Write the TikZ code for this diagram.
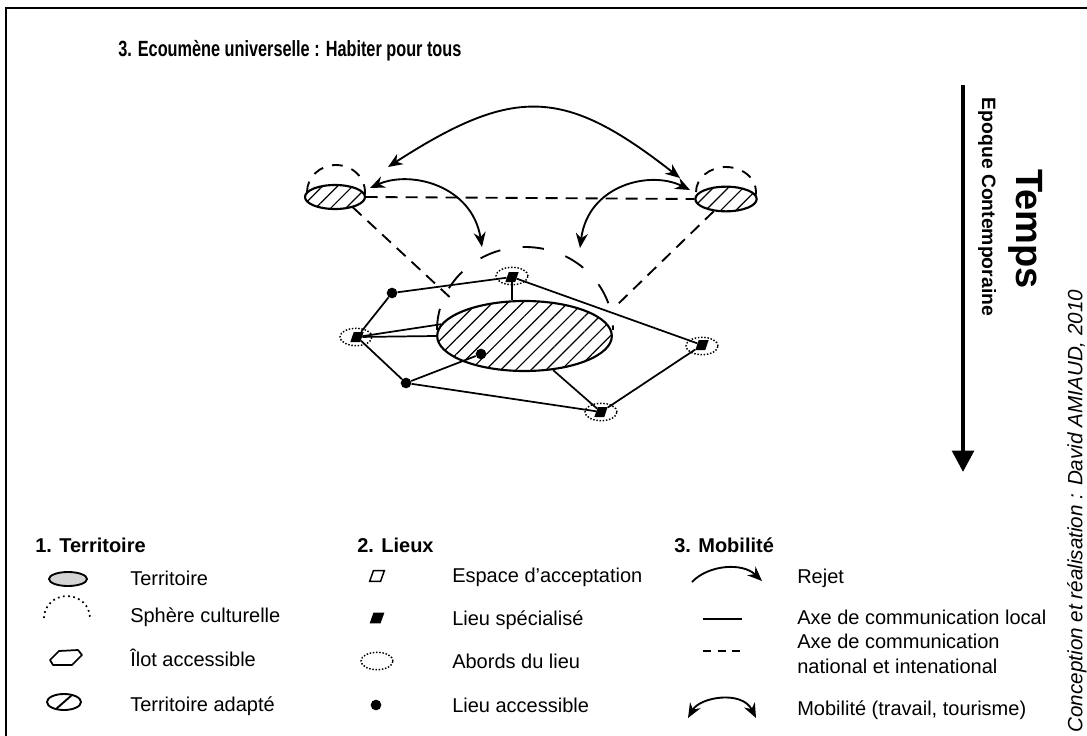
\documentclass[tikz,border=0pt]{standalone}
\usepackage{fontspec}
\usepackage{graphicx}
\setmainfont{Liberation Sans}
\usetikzlibrary{arrows.meta,patterns.meta,shapes.geometric}
\begin{document}
\begin{tikzpicture}[x=0.75pt,y=-0.75pt,
  hatch/.style={preaction={fill=white},pattern={Lines[angle=45,distance=8pt,line width=0.9pt]}},
  terr/.style={ellipse,draw,line width=1.6pt,inner sep=0pt,hatch},
  lieu/.style={trapezium,trapezium left angle=62,trapezium right angle=118,trapezium stretches=true,fill=black,minimum width=10pt,minimum height=7.5pt,inner sep=1pt},
  abord/.style={ellipse,draw,line width=1.1pt,dash pattern=on 1.1pt off 1.3pt,minimum width=24pt,minimum height=13pt,inner sep=0pt},
  acc/.style={circle,fill=black,minimum size=8pt,inner sep=0pt},
  net/.style={line width=1.3pt},
  natl/.style={line width=1.4pt,dash pattern=on 9pt off 6pt},
  sphere/.style={line width=1.4pt,dash pattern=on 8pt off 7pt},
  bigsphere/.style={line width=1.4pt,dash pattern=on 16pt off 17pt},
  mob/.style={line width=1.4pt,{Stealth[length=11pt,width=9pt]}-{Stealth[length=11pt,width=9pt]}},
  legtext/.style={anchor=base west,font=\fontsize{15}{18}\selectfont,inner sep=0pt},
  leghead/.style={anchor=base west,font=\bfseries\fontsize{15}{18}\selectfont,inner sep=0pt}]
\useasboundingbox (0,0) rectangle (1087,735);
\fill[white] (0,0) rectangle (1087,735);
% frame
\draw[line width=2.2pt] (6,745) -- (6,8) -- (1095,8);

% title
\node[anchor=base west,inner sep=0pt,font=\bfseries\fontsize{16.5}{19}\selectfont] (title) at (118,56) {\scalebox{0.74}[1]{3. Ecoumène universelle : Habiter pour tous}};

% time arrow
\coordinate (t1) at (963,85);
\coordinate (t2) at (963,472);
\draw[line width=3.4pt,-{Triangle[length=16pt,width=16pt]}] (t1) -- (t2);
\node[rotate=-90,font=\bfseries\fontsize{28.5}{32}\selectfont,inner sep=0pt] (temps) at (1026,229) {Temps};
\node[rotate=-90,font=\bfseries\fontsize{14.5}{17}\selectfont,inner sep=0pt] (epoque) at (987,207) {Epoque Contemporaine};
\node[rotate=90,font=\itshape\fontsize{15.5}{18}\selectfont,inner sep=0pt] (credit) at (1077,511) {Conception et réalisation : David AMIAUD, 2010};

% spheres (dashed arcs)
\draw[sphere] (307,192) arc[start angle=180,end angle=368,x radius=29,y radius=27];
\draw[sphere] (696,192) arc[start angle=180,end angle=368,x radius=30,y radius=25];
\draw[bigsphere] (437,330) arc[start angle=180,end angle=360,x radius=88,y radius=83];

% territories
\node[terr,minimum width=45pt,minimum height=18pt] (LE) at (335,197) {};
\node[terr,minimum width=46pt,minimum height=18.5pt] (RE) at (726,199) {};
\node[terr,minimum width=131pt,minimum height=52.5pt] (E) at (524.5,336) {};

% places
\node[abord] (AT) at (512,276) {};
\node[abord] (AL) at (356,337) {};
\node[abord] (AR) at (702,346) {};
\node[abord] (AB) at (601,412) {};
\node[lieu] (NT) at (512,277) {};
\node[lieu] (NL) at (357,337) {};
\node[lieu] (NR) at (702,345) {};
\node[lieu] (NB) at (601,412) {};
\node[acc] (D1) at (392,293) {};
\node[acc] (D2) at (406,383) {};
\node[acc] (D3) at (481,354) {};

% local axes
\draw[net] (D1) -- (NT);
\draw[net] (D1) -- (NL);
\draw[net] (NT) -- (NT |- E.north);
\draw[net] (NT) -- (NR);
\draw[net] (NL) -- (E.172);
\draw[net] (NL) -- (E.west);
\draw[net] (NL) -- (D2);
\draw[net] (D2) -- (D3);
\draw[net] (D2) -- (NB);
\draw[net] (E.-50) -- (NB);
\draw[net] (NB) -- (NR);

% national axes
\coordinate (dl) at (455,302);
\coordinate (dr) at (617,305);
\draw[natl] (LE.east) -- (RE.west);
\draw[natl] (LE.-30) -- (dl);
\draw[natl] (RE.-135) -- (dr);

% mobility arrows
\coordinate (a1) at (388,167);
\coordinate (a2) at (680,178);
\coordinate (b1) at (370,188);
\coordinate (b2) at (482,247);
\coordinate (c1) at (580,248);
\coordinate (c2) at (690,190);
\draw[mob] (a1) .. controls (515,85) and (565,88) .. (a2);
\draw[mob] (b1) .. controls (410,170) and (472,185) .. (b2);
\draw[mob] (c1) .. controls (588,185) and (650,170) .. (c2);

% ---------- legend ----------
\node[leghead] (h1) at (35,552) {1. Territoire};
\node[leghead] (h2) at (357,552) {2. Lieux};
\node[leghead] (h3) at (674,552) {3. Mobilité};

% column 1
\draw[line width=1.4pt,fill=black!17] (68,579) ellipse[x radius=19,y radius=7];
\draw[line width=1.3pt,dash pattern=on 1.3pt off 2.6pt] (44,618) arc[start angle=180,end angle=360,x radius=23,y radius=22];
\draw[line width=1.3pt,line join=round] (50,660) -- (59,651) -- (78,650) -- (82,655) -- (72,665) -- (53,665) -- cycle;
\draw[line width=1.4pt] (64,702) ellipse[x radius=17,y radius=8];
\draw[line width=1.4pt] (56,709) -- (72,695);
\node[legtext] (l11) at (130,585) {Territoire};
\node[legtext] (l12) at (130,622) {Sphère culturelle};
\node[legtext] (l13) at (130,666) {Îlot accessible};
\node[legtext] (l14) at (130,711) {Territoire adapté};

% column 2
\node[lieu,fill=white,draw,line width=1.1pt,minimum width=11pt,minimum height=8pt] (s21) at (377,576) {};
\node[lieu,minimum width=11pt,minimum height=8pt] (s22) at (377,618) {};
\node[abord] (s23) at (377,661) {};
\node[acc] (s24) at (376,705) {};
\node[legtext] (l21) at (452,582) {Espace d'acceptation};
\node[legtext] (l22) at (452,625) {Lieu spécialisé};
\node[legtext] (l23) at (452,668) {Abords du lieu};
\node[legtext] (l24) at (452,712) {Lieu accessible};

% column 3
\coordinate (r1) at (692,582);
\coordinate (r2) at (762,581);
\draw[line width=1.4pt,-{Stealth[length=11pt,width=9pt]}] (r1) .. controls (708,565) and (742,562) .. (r2);
\coordinate (s1) at (703,619);
\coordinate (s2) at (742,619);
\draw[line width=1.3pt] (s1) -- (s2);
\coordinate (q1) at (703,651);
\coordinate (q2) at (742,651);
\draw[line width=1.3pt,dash pattern=on 6pt off 5pt] (q1) -- (q2);
\coordinate (m1) at (688,718);
\coordinate (m2) at (756,718);
\draw[mob] (m1) .. controls (700,697) and (742,690) .. (m2);
\node[legtext] (l31) at (797,583) {Rejet};
\node[legtext] (l32) at (797,624) {Axe de communication local};
\node[legtext] (l33a) at (797,648) {Axe de communication};
\node[legtext] (l33b) at (797,673) {national et intenational};
\node[legtext] (l34) at (797,715) {Mobilité (travail, tourisme)};
\end{tikzpicture}
\end{document}
